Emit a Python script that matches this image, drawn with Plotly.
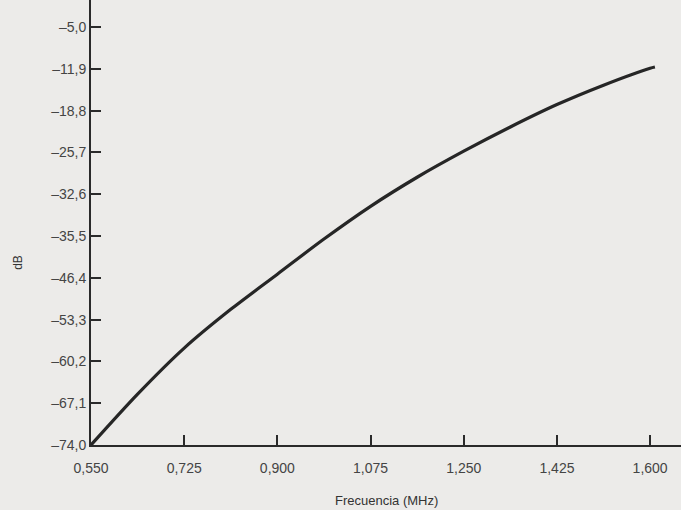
import plotly.graph_objects as go

freq = [0.550, 0.6375, 0.725, 0.8125, 0.900, 0.9875, 1.075, 1.1625, 1.250, 1.3375, 1.425, 1.5125, 1.600, 1.609]
db = [-74.0, -65.6, -58.0, -51.6, -45.8, -40.0, -34.6, -29.8, -25.5, -21.5, -17.8, -14.6, -11.8, -11.6]

x_ticks = [0.550, 0.725, 0.900, 1.075, 1.250, 1.425, 1.600]
x_labels = ["0,550", "0,725", "0,900", "1,075", "1,250", "1,425", "1,600"]
y_ticks = [-74.0, -67.1, -60.2, -53.3, -46.4, -39.5, -32.6, -25.7, -18.8, -11.9, -5.0]
y_labels = ["–74,0", "–67,1", "–60,2", "–53,3", "–46,4", "–35,5", "–32,6", "–25,7", "–18,8", "–11,9", "–5,0"]

fig = go.Figure()
fig.add_trace(go.Scatter(
    x=freq, y=db, mode="lines",
    line=dict(color="#262626", width=3.2, shape="spline", smoothing=0.8),
    showlegend=False, hoverinfo="skip",
))

font = dict(family="Liberation Sans, Arial, sans-serif", size=14, color="#3a3a3a")

fig.update_layout(
    width=681, height=510,
    margin=dict(l=91, r=0, t=0, b=65),
    paper_bgcolor="#ecebe9", plot_bgcolor="#ecebe9",
    font=font,
    xaxis=dict(
        range=[0.55, 1.658], tickvals=x_ticks, ticktext=x_labels,
        showgrid=False, zeroline=False, showline=True, linecolor="#2a2a2a", linewidth=2,
        ticks="inside", ticklen=10, tickwidth=2, tickcolor="#2a2a2a",
        tickfont=dict(size=14, color="#444"), ticklabelstandoff=9,
    ),
    yaxis=dict(
        range=[-74.0, -0.54], tickvals=y_ticks, ticktext=y_labels,
        showgrid=False, zeroline=False, showline=True, linecolor="#2a2a2a", linewidth=2,
        ticks="inside", ticklen=10, tickwidth=2, tickcolor="#2a2a2a",
        tickfont=dict(size=14, color="#444"),
    ),
    annotations=[
        dict(
            text="dB", xref="paper", yref="paper", x=-0.125, y=0.41,
            showarrow=False, textangle=-90, font=dict(size=12, color="#333"),
            xanchor="center", yanchor="middle",
        ),
        dict(
            text="Frecuencia (MHz)", xref="paper", yref="paper", x=0.5, y=-0.1236,
            showarrow=False, font=dict(size=13, color="#333"),
            xanchor="center", yanchor="middle",
        ),
    ],
)

fig.write_html(
    "out.html",
    config={"displayModeBar": False},
    post_script="document.body.style.margin='0';document.body.style.overflow='hidden';",
)
